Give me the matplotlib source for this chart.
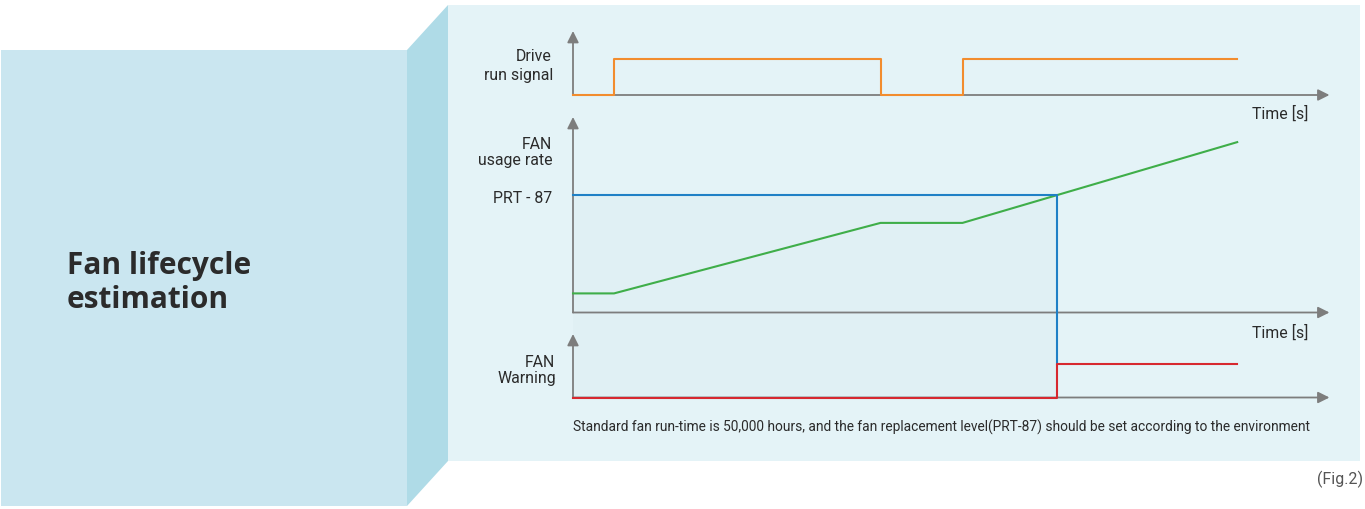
import matplotlib
matplotlib.use('Agg')
import matplotlib.pyplot as plt
from matplotlib import font_manager
from matplotlib.patches import Rectangle, Polygon
import numpy as np

# drive run signal (0 = off, 1 = on), time in s
run_t = [0, 1.0, 7.5, 9.5, 16.2]
run_state = [0, 1, 0, 1, 1]

# fan usage rate in %
usage_t = [0, 1.0, 7.5, 9.5, 16.2]
usage_pct = [13, 13, 61, 61, 116]

# fan replacement level (PRT-87)
prt_87 = 80

# fan warning output (0 = off, 1 = on)
warn_off, warn_on = 0, 1

t_end = 16.2
t_axis_end = 18.45

title_lines = ['Fan lifecycle', 'estimation']
note = ('Standard fan run-time is 50,000 hours, and the fan replacement '
        'level(PRT-87) should be set according to the environment')

# time at which usage reaches the PRT-87 level
t_warn = np.interp(prt_87, usage_pct[3:], usage_t[3:])

names = {f.name for f in font_manager.fontManager.ttflist}
label_font = 'Liberation Sans Narrow' if 'Liberation Sans Narrow' in names else 'Roboto'
title_font = 'Open Sans' if 'Open Sans' in names else 'DejaVu Sans'

W, H = 1365, 510
fig = plt.figure(figsize=(W / 100, H / 100), dpi=100)

# background in pixel coordinates
ax = fig.add_axes([0, 0, 1, 1])
ax.set_xlim(0, W)
ax.set_ylim(H, 0)
ax.axis('off')

ax.add_patch(Rectangle((448, 6), 912, 456, color='#e4f3f7', lw=0))
ax.add_patch(Rectangle((573, 196), 485, 203, color='#e0f0f4', lw=0))
ax.add_patch(Polygon([(407, 51), (448, 6), (448, 462), (407, 507)],
                     closed=True, color='#afdbe7', lw=0))
ax.add_patch(Rectangle((1, 51), 406, 456, color='#cae6f0', lw=0))

ax.text(67, 274, title_lines[0], fontsize=21.5, fontweight='bold',
        family=title_font, color='#2b2b2b', va='baseline')
ax.text(67, 308, title_lines[1], fontsize=21.5, fontweight='bold',
        family=title_font, color='#2b2b2b', va='baseline')

txt = dict(family=label_font, fontsize=11.4, color='#2b2b2b', va='baseline')
ax.text(552, 61, 'Drive', ha='right', **txt)
ax.text(553, 80, 'run signal', ha='right', **txt)
ax.text(552, 149, 'FAN', ha='right', **txt)
ax.text(553, 165, 'usage rate', ha='right', **txt)
ax.text(552, 203, 'PRT - 87', ha='right', **txt)
ax.text(555, 367, 'FAN', ha='right', **txt)
ax.text(556, 383, 'Warning', ha='right', **txt)
ax.text(1308, 119, 'Time [s]', ha='right', **txt)
ax.text(1308, 338, 'Time [s]', ha='right', **txt)
note_txt = ax.text(573, 432, note, ha='left', family=label_font, fontsize=11,
                   color='#2b2b2b', va='baseline')
ax.text(1363, 484, '(Fig.2)', ha='right', family=label_font, fontsize=11.5,
        color='#555555', va='baseline')

# fit the note to the width it has in the reference (573 -> 1306 px)
fig.canvas.draw()
w = note_txt.get_window_extent(fig.canvas.get_renderer()).width
note_txt.set_fontsize(11 * 733 / w)

# timing diagram: x in seconds, y in pixels (downwards)
px_per_s = 41.0
x0 = 573
tax = fig.add_axes([0, 0, 1, 1])
tax.set_xlim(-x0 / px_per_s, (W - x0) / px_per_s)
tax.set_ylim(H, 0)
tax.axis('off')
tax.patch.set_alpha(0)

drive_base, drive_scale, drive_top = 96, 36, 32
usage_base, usage_scale, usage_top = 313.5, 117.5 / prt_87, 118
warn_base, warn_scale, warn_top = 398.5, 33.5, 335

axis_c = '#7d7d7d'
arrow = dict(arrowstyle='-|>', mutation_scale=17, color=axis_c, lw=1.3,
             shrinkA=0, shrinkB=0)
for base, top in [(drive_base, drive_top), (usage_base, usage_top),
                  (warn_base, warn_top)]:
    tax.annotate('', xy=(0, top), xytext=(0, base), arrowprops=arrow)
    tax.annotate('', xy=(t_axis_end, base), xytext=(0, base), arrowprops=arrow)

run_y = drive_base - np.array(run_state) * drive_scale
tax.step(run_t, run_y, where='post', color='#f28c2e', lw=1.5, zorder=3)

usage_y = usage_base - np.array(usage_pct) * usage_scale
tax.plot(usage_t, usage_y, color='#3fae49', lw=1.5, zorder=3)

prt_y = usage_base - prt_87 * usage_scale
warn_hi = warn_base - warn_on * warn_scale
warn_lo = warn_base - warn_off * warn_scale
tax.plot([0, t_warn, t_warn], [prt_y, prt_y, warn_hi], color='#1f80c6',
         lw=1.5, zorder=3)
tax.step([0, t_warn, t_end], [warn_lo, warn_hi, warn_hi], where='post',
         color='#d7282f', lw=1.5, zorder=4)

fig.savefig('out.png', dpi=100)
